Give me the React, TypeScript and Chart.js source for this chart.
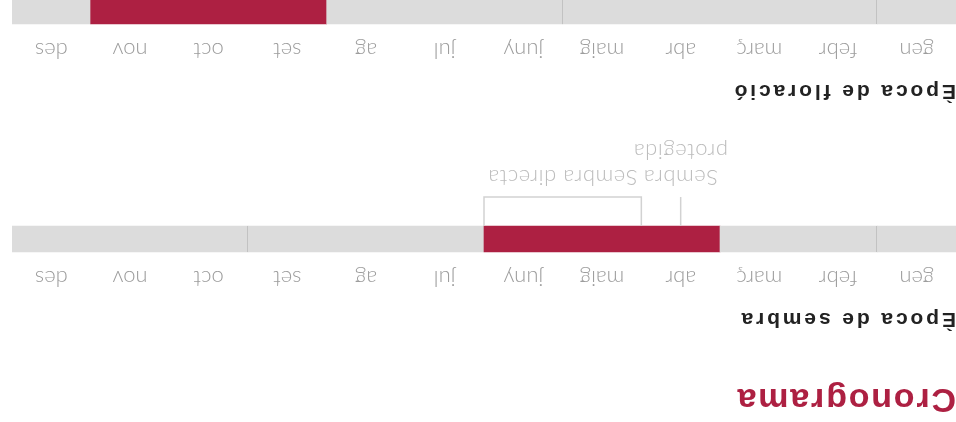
import React, { useEffect, useRef } from 'react';
import { Chart, registerables } from 'chart.js';

Chart.register(...registerables);

// ---- data ----
const months = ['gen', 'febr', 'març', 'abr', 'maig', 'juny', 'jul', 'ag', 'set', 'oct', 'nov', 'des'];

// sowing period: consecutive segment lengths (months) and whether each is active
const sembraSegments = [1, 2, 3, 3, 3];
const sembraActive = [false, false, true, false, false];

// flowering period
const floracioSegments = [1, 4, 3, 3, 1];
const floracioActive = [false, false, false, true, false];

// markers under the sowing strip (month positions)
const markerLabels = [['Sembra', 'protegida'], ['Sembra directa']];
const markerFrom = [3.5, 4];
const markerTo = [3.5, 6];

const RED = '#ad2042';
const GRAY = '#dcdcdc';
const DIVIDER = '#c2c2c2';
const MARK = '#d2d2d2';
const MARK_TEXT = '#bdbdbd';
const TICK = '#9d9d9d';
const LABEL_FONT = 'Lato, "Open Sans", sans-serif';

function dividersFrom(segs: number[], active: boolean[]) {
  const out: number[] = [];
  let acc = 0;
  for (let i = 0; i < segs.length - 1; i++) {
    acc += segs[i];
    if (!active[i] && !active[i + 1]) out.push(acc);
  }
  return out;
}

const stripPlugin = {
  id: 'strip',
  afterDatasetsDraw(chart: any, _args: any, opts: any) {
    const { ctx } = chart;
    const xs = chart.scales.x;
    const el = chart.getDatasetMeta(0).data[0];
    const barTop = el.y - el.height / 2;
    const barBottom = el.y + el.height / 2;
    ctx.save();
    ctx.strokeStyle = DIVIDER;
    ctx.lineWidth = 1;
    (opts.dividers || []).forEach((v: number) => {
      const px = Math.round(xs.getPixelForValue(v)) + 0.5;
      ctx.beginPath();
      ctx.moveTo(px, barTop);
      ctx.lineTo(px, barBottom);
      ctx.stroke();
    });
    const markers = opts.markers;
    if (markers) {
      const top = barBottom;
      const bot = barBottom + 29;
      ctx.strokeStyle = MARK;
      ctx.lineWidth = 1.5;
      markers.labels.forEach((lab: string[], i: number) => {
        const a = xs.getPixelForValue(markers.from[i]);
        const b = xs.getPixelForValue(markers.to[i]);
        ctx.beginPath();
        ctx.moveTo(a, top);
        ctx.lineTo(a, bot);
        if (b !== a) {
          ctx.lineTo(b, bot);
          ctx.lineTo(b, top);
        }
        ctx.stroke();
        ctx.fillStyle = MARK_TEXT;
        ctx.font = '300 22px ' + LABEL_FONT;
        try { (ctx as any).letterSpacing = '0.6px'; } catch (e) {}
        ctx.textAlign = 'center';
        ctx.textBaseline = 'alphabetic';
        const cx = (a + b) / 2;
        lab.forEach((line: string, j: number) => {
          ctx.fillText(line, cx, barBottom + 56 + j * 26);
        });
      });
    }
    ctx.restore();
  },
};

function makeConfig(segs: number[], active: boolean[], padBottom: number, markers: any) {
  return {
    type: 'bar' as const,
    data: {
      labels: [''],
      datasets: segs.map((len, i) => ({
        data: [len],
        backgroundColor: active[i] ? RED : GRAY,
        borderWidth: 0,
        barThickness: 26,
        stack: 's',
      })),
    },
    options: {
      indexAxis: 'y' as const,
      responsive: false,
      animation: false as const,
      events: [],
      layout: { padding: { top: 0, left: 0, right: 0, bottom: padBottom } },
      plugins: {
        legend: { display: false },
        tooltip: { enabled: false },
        strip: { dividers: dividersFrom(segs, active), markers },
      },
      scales: {
        x: { type: 'linear' as const, stacked: true, min: 0, max: 12, display: false },
        x2: {
          type: 'category' as const,
          labels: months,
          position: 'top' as const,
          offset: true,
          grid: { display: false, drawTicks: false },
          border: { display: false },
          ticks: {
            font: { family: LABEL_FONT, size: 22, weight: 300 as any, lineHeight: '38px' },
            color: TICK,
            padding: 0,
            maxRotation: 0,
            autoSkip: false,
          },
        },
        y: { stacked: true, display: false },
      },
    },
    plugins: [stripPlugin],
  };
}

function Strip(props: { segs: number[]; active: boolean[]; top: number; height: number; padBottom: number; markers?: any }) {
  const ref = useRef<HTMLCanvasElement>(null);
  useEffect(() => {
    if (!ref.current) return;
    const chart = new Chart(ref.current, makeConfig(props.segs, props.active, props.padBottom, props.markers) as any);
    return () => chart.destroy();
  }, []);
  return (
    <canvas
      ref={ref}
      width={944}
      height={props.height}
      style={{ position: 'absolute', left: 0, top: props.top, width: 944, height: props.height }}
    />
  );
}

const headFont = '"Liberation Sans", Arial, sans-serif';

export default function App() {
  return (
    <div
      style={{
        position: 'fixed',
        left: 0,
        top: 0,
        width: 956,
        height: 422,
        overflow: 'hidden',
        background: '#fff',
        transform: 'rotate(180deg)',
        transformOrigin: '50% 50%',
      }}
    >
      <div
        style={{
          position: 'absolute', left: 0, top: 4, fontFamily: headFont, fontWeight: 700,
          fontSize: 34, lineHeight: 1, letterSpacing: 1.8, color: RED, whiteSpace: 'nowrap',
        }}
      >
        Cronograma
      </div>
      <div
        style={{
          position: 'absolute', left: 0, top: 91, fontFamily: headFont, fontWeight: 700,
          fontSize: 21, lineHeight: 1, letterSpacing: 2.9, color: '#222', whiteSpace: 'nowrap',
        }}
      >
        Època de sembra
      </div>
      <Strip
        segs={sembraSegments}
        active={sembraActive}
        top={125}
        height={166}
        padBottom={88}
        markers={{ labels: markerLabels, from: markerFrom, to: markerTo }}
      />
      <div
        style={{
          position: 'absolute', left: 0, top: 319, fontFamily: headFont, fontWeight: 700,
          fontSize: 21, lineHeight: 1, letterSpacing: 2.9, color: '#222', whiteSpace: 'nowrap',
        }}
      >
        Època de floració
      </div>
      <Strip segs={floracioSegments} active={floracioActive} top={353} height={78} padBottom={0} />
    </div>
  );
}
